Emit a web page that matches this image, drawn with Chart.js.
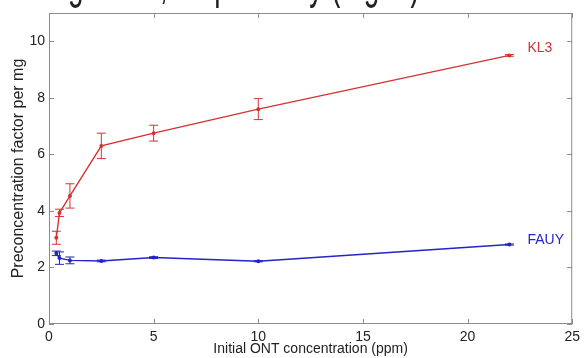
<!DOCTYPE html>
<html>
<head>
<meta charset="utf-8">
<script src="https://cdn.jsdelivr.net/npm/chart.js@4/dist/chart.umd.min.js"></script>
<style>
    html, body { margin: 0; padding: 0; background: #fff; }
    canvas { display: block; }
</style>
</head>
<body>
<canvas id="chart" width="585" height="358"></canvas>
<script>
const FONT = "'Liberation Sans', Arial, sans-serif";

// initial ONT concentration (ppm)
const concentrations = [0.35, 0.5, 1, 2.5, 5, 10, 22];

const seriesNames = ["KL3", "FAUY"];
const kl3Values = [3.05, 3.93, 4.53, 6.30, 6.75, 7.60, 9.50];
const kl3Errors = [0.23, 0.13, 0.43, 0.45, 0.28, 0.37, 0.03];
const fauyValues = [2.50, 2.33, 2.25, 2.23, 2.35, 2.22, 2.81];
const fauyErrors = [0.08, 0.22, 0.12, 0.03, 0.03, 0.02, 0.02];

const xTicks = [0, 5, 10, 15, 20, 25];
const yTicks = [0, 2, 4, 6, 8, 10];

const COLORS = {
    red: "#d63232",
    blue: "#2424c8",
    axis: "#8c8c8c",
    text: "#222222"
};

const toPoints = (values) => values.map((v, i) => ({ x: concentrations[i], y: v }));

// half-clipped line of body text above the figure
const pageTextPlugin = {
    id: "pageText",
    beforeDraw(chart) {
        const ctx = chart.ctx;
        ctx.save();
        ctx.setTransform(1, 0, 0, 1.7, -2, -2);
        ctx.font = `28px ${FONT}`;
        ctx.fillStyle = COLORS.text;
        ctx.textAlign = "left";
        ctx.textBaseline = "alphabetic";
        ctx.fillText("of magnitude, respectively (Fig. 4)", 0, 0);
        ctx.restore();
    }
};

// box round the plot with inward ticks on all four sides
const boxPlugin = {
    id: "box",
    beforeDatasetsDraw(chart) {
        const { ctx, chartArea: a, scales } = chart;
        const len = 5;
        ctx.save();
        ctx.strokeStyle = COLORS.axis;
        ctx.lineWidth = 1;
        ctx.strokeRect(a.left + 0.5, a.top + 0.5, a.right - a.left - 1, a.bottom - a.top - 1);
        ctx.beginPath();
        scales.x.ticks.forEach(t => {
            const px = Math.round(scales.x.getPixelForValue(t.value)) + 0.5;
            ctx.moveTo(px, a.bottom);
            ctx.lineTo(px, a.bottom - len);
            ctx.moveTo(px, a.top);
            ctx.lineTo(px, a.top + len);
        });
        scales.y.ticks.forEach(t => {
            const py = Math.round(scales.y.getPixelForValue(t.value)) + 0.5;
            ctx.moveTo(a.left, py);
            ctx.lineTo(a.left + len, py);
            ctx.moveTo(a.right, py);
            ctx.lineTo(a.right - len, py);
        });
        ctx.stroke();
        ctx.restore();
    }
};

const errorBarPlugin = {
    id: "errorBars",
    afterDatasetsDraw(chart) {
        const { ctx, scales } = chart;
        const errors = [kl3Errors, fauyErrors];
        const cap = 4.5;
        chart.data.datasets.forEach((ds, i) => {
            ctx.save();
            ctx.strokeStyle = ds.borderColor;
            ctx.lineWidth = 1;
            ctx.beginPath();
            ds.data.forEach((p, j) => {
                const px = scales.x.getPixelForValue(p.x);
                const top = scales.y.getPixelForValue(p.y + errors[i][j]);
                const bot = scales.y.getPixelForValue(p.y - errors[i][j]);
                ctx.moveTo(px, top);
                ctx.lineTo(px, bot);
                ctx.moveTo(px - cap, top);
                ctx.lineTo(px + cap, top);
                ctx.moveTo(px - cap, bot);
                ctx.lineTo(px + cap, bot);
            });
            ctx.stroke();
            ctx.restore();
        });
    }
};

// series names next to the last point of each line
const seriesLabelPlugin = {
    id: "seriesLabels",
    afterDatasetsDraw(chart) {
        const ctx = chart.ctx;
        const offsets = [-7, -4];
        chart.data.datasets.forEach((ds, i) => {
            const meta = chart.getDatasetMeta(i);
            const last = meta.data[meta.data.length - 1];
            ctx.save();
            ctx.font = `14px ${FONT}`;
            ctx.fillStyle = ds.borderColor;
            ctx.textBaseline = "middle";
            ctx.fillText(ds.label, last.x + 18, last.y + offsets[i]);
            ctx.restore();
        });
    }
};

const axisFont = { family: FONT, size: 14 };

new Chart(document.getElementById("chart"), {
    type: "scatter",
    data: {
        datasets: [{
            label: seriesNames[0],
            data: toPoints(kl3Values),
            showLine: true,
            borderColor: COLORS.red,
            backgroundColor: COLORS.red,
            borderWidth: 1.4,
            pointRadius: 1.3,
            tension: 0
        }, {
            label: seriesNames[1],
            data: toPoints(fauyValues),
            showLine: true,
            borderColor: COLORS.blue,
            backgroundColor: COLORS.blue,
            borderWidth: 1.4,
            pointRadius: 1.3,
            tension: 0
        }]
    },
    options: {
        responsive: false,
        animation: false,
        devicePixelRatio: 1,
        layout: {
            padding: { top: 13, right: 9, left: 0, bottom: 0 }
        },
        plugins: {
            legend: { display: false },
            tooltip: { enabled: false }
        },
        scales: {
            x: {
                type: "linear",
                min: 0,
                max: 25,
                afterBuildTicks: s => { s.ticks = xTicks.map(v => ({ value: v })); },
                afterFit: s => { s.height = 34; },
                grid: { display: false, drawTicks: false },
                border: { display: false },
                ticks: { padding: 5, color: COLORS.text, font: axisFont, maxRotation: 0 },
                title: {
                    display: true,
                    text: "Initial ONT concentration (ppm)",
                    color: COLORS.text,
                    font: axisFont,
                    padding: 0
                }
            },
            y: {
                type: "linear",
                min: 0,
                max: 11,
                afterBuildTicks: s => { s.ticks = yTicks.map(v => ({ value: v })); },
                afterFit: s => { s.width = 49; },
                grid: { display: false, drawTicks: false },
                border: { display: false },
                ticks: { padding: 4, color: COLORS.text, font: axisFont },
                title: {
                    display: true,
                    text: "Preconcentration factor per mg",
                    color: COLORS.text,
                    font: { family: FONT, size: 16 },
                    padding: { top: 9, bottom: 0 }
                }
            }
        }
    },
    plugins: [pageTextPlugin, boxPlugin, errorBarPlugin, seriesLabelPlugin]
});
</script>
</body>
</html>
